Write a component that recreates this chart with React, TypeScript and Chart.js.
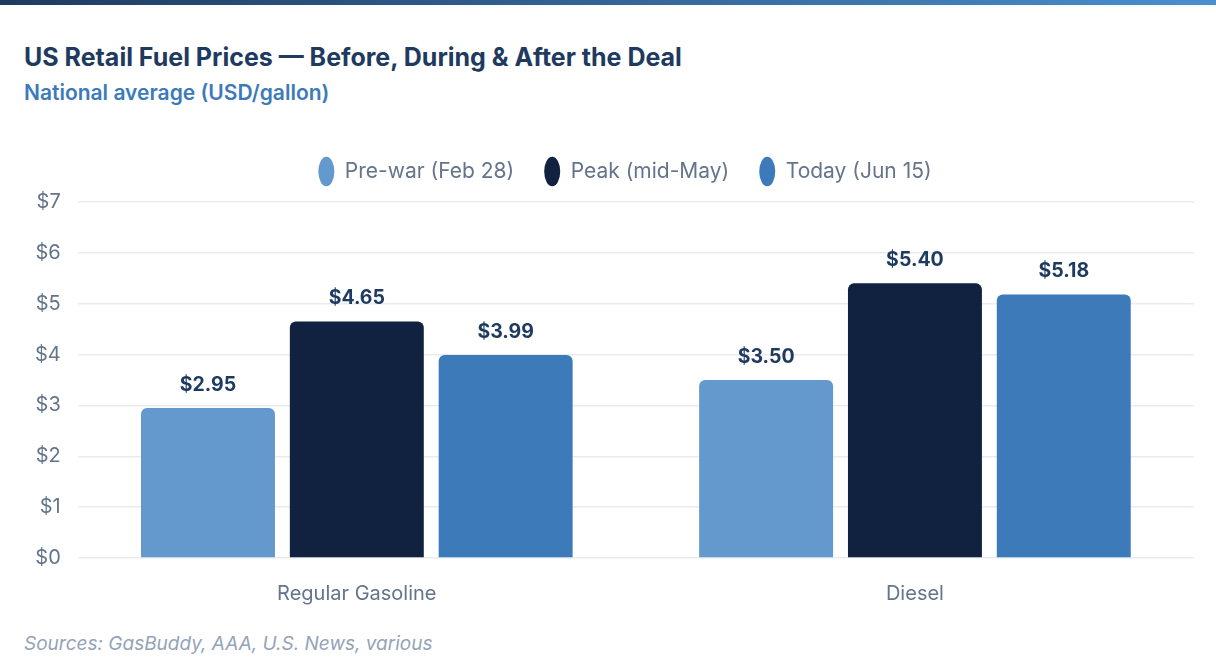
import React, { useEffect, useRef } from "react";
import { Chart, registerables } from "chart.js";

Chart.register(...registerables);

const categories = ["Regular Gasoline", "Diesel"];
const seriesNames = ["Pre-war (Feb 28)", "Peak (mid-May)", "Today (Jun 15)"];
const preWar = [2.95, 3.5];
const peak = [4.65, 5.4];
const today = [3.99, 5.18];
const yTicks = [0, 1, 2, 3, 4, 5, 6, 7];
const colors = ["#6399cc", "#10223f", "#3d7aba"];

const FONT = "Inter, 'Noto Sans', sans-serif";

const valueLabels = {
  id: "valueLabels",
  afterDatasetsDraw(chart: any) {
    const ctx = chart.ctx;
    ctx.save();
    ctx.font = `700 19.5px ${FONT}`;
    ctx.fillStyle = "#1e3a5f";
    ctx.textAlign = "center";
    ctx.textBaseline = "middle";
    chart.data.datasets.forEach((ds: any, i: number) => {
      const meta = chart.getDatasetMeta(i);
      meta.data.forEach((bar: any, j: number) => {
        ctx.fillText("$" + Number(ds.data[j]).toFixed(2), bar.x, bar.y - 23);
      });
    });
    ctx.restore();
  },
};

const legendGap = {
  id: "legendGap",
  beforeInit(chart: any) {
    const orig = chart.legend.fit;
    chart.legend.fit = function () {
      orig.bind(chart.legend)();
      this.height += 10;
    };
  },
  beforeDraw(chart: any) {
    const lg = chart.legend;
    if (lg && !lg._shifted) {
      lg.left += 19;
      lg.right += 19;
      lg._shifted = true;
    }
  },
};

export default function App() {
  const ref = useRef<HTMLCanvasElement>(null);
  useEffect(() => {
    document.body.style.margin = "0";
    const c = new Chart(ref.current!, {
      type: "bar",
      data: {
        labels: categories,
        datasets: [preWar, peak, today].map((d, i) => ({
          label: seriesNames[i],
          data: d,
          backgroundColor: colors[i],
          borderRadius: 6,
          borderSkipped: "bottom",
          categoryPercentage: 0.8,
          barPercentage: 0.9,
        })),
      },
      options: {
        animation: false,
        responsive: true,
        maintainAspectRatio: false,
        layout: { padding: { left: 0, right: 4, top: 0, bottom: 0 } },
        plugins: {
          legend: {
            position: "top",
            labels: {
              usePointStyle: true,
              pointStyle: "circle",
              pointStyleWidth: 16,
              boxHeight: 22,
              padding: 30,
              color: "#64748b",
              font: { family: FONT, size: 21 },
            },
          },
          tooltip: { enabled: false },
        },
        scales: {
          x: {
            grid: { display: false },
            border: { display: false },
            ticks: { color: "#64748b", font: { family: FONT, size: 20 }, padding: 16 },
          },
          y: {
            min: 0,
            max: 7,
            afterBuildTicks: (axis: any) => {
              axis.ticks = yTicks.map((v) => ({ value: v }));
            },
            grid: { color: "#e8ecf1", lineWidth: 1.5, drawTicks: false },
            border: { display: false },
            ticks: {
              color: "#64748b",
              font: { family: FONT, size: 20 },
              padding: 17,
              callback: (v: any) => "$" + v,
            },
          },
        },
      },
      plugins: [valueLabels, legendGap],
    });
    return () => c.destroy();
  }, []);

  return (
    <div style={{ width: 1216, height: 672, position: "relative", background: "#fff", fontFamily: FONT, overflow: "hidden" }}>
      <div style={{ position: "absolute", left: 0, top: 0, width: 1216, height: 5, background: "linear-gradient(90deg, #1e3a5f, #4a8fcf)" }} />
      <div style={{ position: "absolute", left: 24, top: 42, fontSize: 25, fontWeight: 700, color: "#1e3a5f", whiteSpace: "nowrap", lineHeight: "30px" }}>
        US Retail Fuel Prices — Before, During &amp; After the Deal
      </div>
      <div style={{ position: "absolute", left: 24, top: 80, fontSize: 21, fontWeight: 600, color: "#3d7aba", whiteSpace: "nowrap", lineHeight: "26px" }}>
        National average (USD/gallon)
      </div>
      <div style={{ position: "absolute", left: 18, top: 131, width: 1180, height: 491 }}>
        <canvas ref={ref} />
      </div>
      <div style={{ position: "absolute", left: 24, top: 632, fontSize: 19, fontStyle: "italic", color: "#94a3b8", whiteSpace: "nowrap", lineHeight: "24px" }}>
        Sources: GasBuddy, AAA, U.S. News, various
      </div>
    </div>
  );
}
